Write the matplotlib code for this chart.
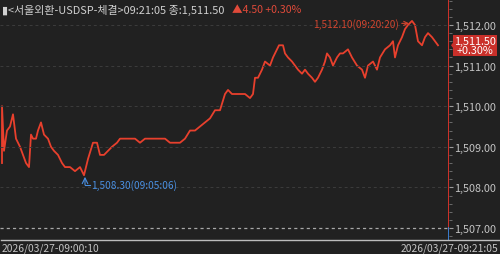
import matplotlib
matplotlib.use("Agg")
import matplotlib.pyplot as plt
from matplotlib.ticker import MultipleLocator, FuncFormatter
from matplotlib.patches import Polygon

plt.rcParams['font.family'] = ['Noto Sans CJK KR', 'DejaVu Sans']

# 체결 순번 (화면 위치 기준) 과 가격
tick_no = [2, 2, 4, 7, 10, 13, 16, 20, 23, 26, 29, 31, 33, 36, 38, 41, 44, 48, 51, 54,
           58, 62, 65, 70, 75, 80, 84, 88, 93, 97, 100, 104, 108, 112, 117, 120, 125, 130, 135, 140,
           145, 150, 155, 160, 165, 170, 175, 180, 185, 190, 195, 200, 205, 210, 215, 220, 225, 228, 232, 240,
           245, 250, 253, 255, 258, 262, 265, 270, 273, 277, 279, 283, 285, 288, 292, 295, 298, 302, 305, 308,
           312, 315, 318, 322, 325, 327, 330, 333, 337, 340, 343, 348, 352, 357, 362, 365, 368, 373, 377, 380,
           385, 390, 393, 395, 398, 402, 405, 408, 412, 415, 418, 422, 425, 428, 432, 435, 438]
price = [1508.6, 1510.0, 1508.9, 1509.4, 1509.5, 1509.8, 1509.2, 1509.0, 1508.8, 1508.6, 1508.5, 1509.3, 1509.2, 1509.2, 1509.4, 1509.6, 1509.3, 1509.2, 1509.0, 1508.9,
         1508.8, 1508.6, 1508.5, 1508.5, 1508.4, 1508.5, 1508.3, 1508.7, 1509.1, 1509.1, 1508.8, 1508.8, 1508.9, 1509.0, 1509.1, 1509.2, 1509.2, 1509.2, 1509.2, 1509.1,
         1509.2, 1509.2, 1509.2, 1509.2, 1509.2, 1509.1, 1509.1, 1509.1, 1509.2, 1509.4, 1509.4, 1509.5, 1509.6, 1509.7, 1509.9, 1509.9, 1510.3, 1510.4, 1510.3, 1510.3,
         1510.3, 1510.2, 1510.3, 1510.7, 1510.7, 1510.9, 1511.1, 1511.0, 1511.2, 1511.4, 1511.5, 1511.5, 1511.3, 1511.2, 1511.1, 1511.0, 1510.9, 1510.8, 1510.9, 1510.8,
         1510.7, 1510.6, 1510.7, 1510.9, 1511.1, 1511.3, 1511.2, 1511.0, 1511.2, 1511.3, 1511.3, 1511.4, 1511.2, 1511.0, 1510.9, 1510.7, 1511.0, 1511.1, 1510.9, 1511.2,
         1511.4, 1511.5, 1511.6, 1511.2, 1511.5, 1511.7, 1511.9, 1512.0, 1512.1, 1512.0, 1511.6, 1511.5, 1511.7, 1511.8, 1511.7, 1511.6, 1511.5]

y_ticks = [1507, 1508, 1509, 1510, 1511, 1512]
start_label = "2026/03/27-09:00:10"
end_label = "2026/03/27-09:21:05"
hi_label = "1,512.10(09:20:20)"
lo_label = "1,508.30(09:05:06)"
last_price = 1511.50
change = 4.50
change_pct = 0.30

BG = '#212121'
RED = '#e8402d'
TXT = '#c4c4c4'
Y0, Y1 = 1506.704, 1512.64

fig = plt.figure(figsize=(5, 2.55), dpi=100, facecolor=BG)
ax = fig.add_axes([0, 14 / 255, 449 / 500, 241 / 255])
ax.set_facecolor(BG)

ax.plot(tick_no, price, color=RED, lw=1.3)

ax.set_xlim(0, 449)
ax.set_ylim(Y0, Y1)

# 격자
for v in y_ticks[1:]:
    ax.axhline(v, color='#3c3c3c', lw=0.7, ls=(0, (3, 3)))
ax.axhline(y_ticks[0], color='#a8a8a8', lw=0.9, ls=(0, (2.5, 2.5)))

for s in ax.spines.values():
    s.set_visible(False)
ax.set_xticks([])

ax.yaxis.tick_right()
ax.set_yticks(y_ticks)
ax.yaxis.set_minor_locator(MultipleLocator(0.2))
ax.yaxis.set_major_formatter(FuncFormatter(lambda v, p: f"{v:,.2f}"))
ax.tick_params(axis='y', which='major', length=3, width=0.8, color='#9a9a9a',
               labelsize=7.8, labelcolor=TXT, pad=0.5)
ax.tick_params(axis='y', which='minor', length=2, width=0.6, color='#777777')

# 현재 시간 세로선
split = (1507 - Y0) / (Y1 - Y0)
ax.axvline(449, ymin=split, ymax=1, color='#e0332a', lw=2)
ax.axvline(449, ymin=0, ymax=split, color='#3b86e0', lw=2)

# 고가/저가 표시
hi_i = price.index(max(price))
lo_i = price.index(min(price))
ax.annotate(hi_label, xy=(tick_no[hi_i] - 3, max(price) - 0.06),
            xytext=(tick_no[hi_i] - 13, max(price) - 0.06),
            color='#d2452f', fontsize=7.3, ha='right', va='center',
            arrowprops=dict(arrowstyle='->', color='#d2452f', lw=0.8, shrinkA=0, shrinkB=0))
ax.annotate('', xy=(tick_no[lo_i] + 1, min(price) - 0.04),
            xytext=(tick_no[lo_i] + 1, min(price) - 0.24),
            arrowprops=dict(arrowstyle='->', color='#4a90e2', lw=0.8, shrinkA=0, shrinkB=0))
ax.plot([tick_no[lo_i] + 1, tick_no[lo_i] + 6], [min(price) - 0.24] * 2, color='#4a90e2', lw=0.8)
ax.text(tick_no[lo_i] + 7, min(price) - 0.22, lo_label, color='#4a90e2', fontsize=7.3, va='center')

# 현재가 박스
ax.annotate(f"{last_price:,.2f}\n+{change_pct:.2f}%", xy=(449, last_price),
            xytext=(475, last_price), textcoords='data', annotation_clip=False,
            color='white', fontsize=7.8, ha='center', va='center', linespacing=0.9,
            bbox=dict(boxstyle='square,pad=0.1', fc='#c9302a', ec='none'))
ypix = 14 + (last_price - Y0) / (Y1 - Y0) * 241
fig.add_artist(Polygon([[451 / 500, ypix / 255], [454 / 500, (ypix + 4) / 255],
                        [454 / 500, (ypix - 4) / 255]], closed=True, fc='#c9302a', ec='none',
                       transform=fig.transFigure))

# 하단 축선
fig.add_artist(plt.Line2D([0.002, 1], [14 / 255, 14 / 255], color='#bdbdbd', lw=1))
fig.text(0.004, 6 / 255, start_label, color=TXT, fontsize=7.4, va='center', ha='left')
fig.text(0.996, 6 / 255, end_label, color=TXT, fontsize=7.4, va='center', ha='right')

# 상단 제목
fig.text(0.004, 1 - 10 / 255, "▮<서울외환-USDSP-체결>09:21:05 종:1,511.50", color='#d0d0d0',
         fontsize=7.9, va='center', ha='left')
fig.text(0.463, 1 - 10 / 255, f"▲{change:.2f} +{change_pct:.2f}%", color='#e04a3a',
         fontsize=7.6, va='center', ha='left')

fig.savefig('out.png', dpi=100, facecolor=BG)
